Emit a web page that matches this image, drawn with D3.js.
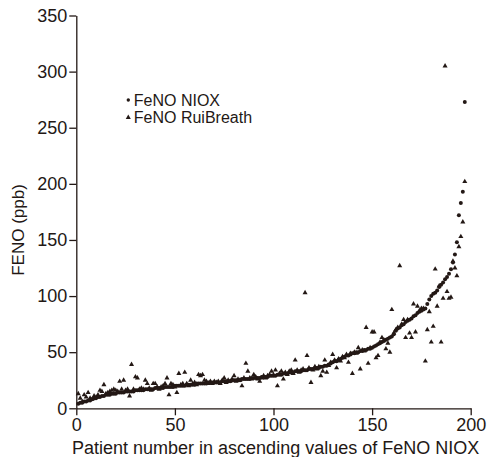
<!DOCTYPE html>
<html>
<head>
<meta charset="utf-8">
<script src="https://cdn.jsdelivr.net/npm/d3@7"></script>
<style>
  body { margin: 0; background: #fff; }
  svg { display: block; }
  .axis text { font-family: "Liberation Sans", Arial, Helvetica, sans-serif; font-size: 18px; fill: #231815; }
  .axis path, .axis line { stroke: #231815; stroke-width: 1.3; }
  .label { font-family: "Liberation Sans", Arial, Helvetica, sans-serif; fill: #231815; }
</style>
</head>
<body>
<div id="chart"></div>
<script>
var svgWidth = 493;
var svgHeight = 457;

// patient number 1..197, sorted by NIOX value
var niox = [
  4,5,5,6,6,7,7,8,9,9,
  10,10,11,11,12,12,12,13,13,13,
  14,14,14,14,15,15,15,15,15,16,
  16,16,16,16,17,17,17,17,17,18,
  18,18,18,18,19,19,19,19,19,20,
  20,20,20,20,20,21,21,21,21,21,
  22,22,22,22,22,22,23,23,23,23,
  23,23,23,24,24,24,24,24,25,25,
  25,25,25,26,26,26,26,26,27,27,
  27,27,27,28,28,28,28,29,29,29,
  29,30,30,30,31,31,31,32,32,32,
  33,33,33,33,34,34,34,35,35,35,
  36,36,36,37,37,38,38,39,40,41,
  42,42,43,44,45,46,47,47,48,49,
  49,50,50,51,51,52,52,53,53,54,
  55,56,57,58,59,60,61,62,63,64,
  66,69,71,72,74,75,77,78,79,80,
  82,83,85,86,87,88,89,93,97,100,
  102,103,105,108,110,112,115,117,120,124,
  130,137,148,172,183,193,273
];

var ruibreath = [
  13,9,6,12,10,14,9,8,11,10,
  12,16,15,21,13,14,15,16,17,16,
  15,24,17,25,16,17,11,39,17,28,
  27,17,18,17,25,22,18,16,22,22,
  19,17,19,20,22,27,12,22,21,19,
  14,31,21,22,32,22,20,25,22,23,
  21,30,29,30,25,24,22,24,22,24,
  23,24,22,25,27,23,25,24,26,29,
  24,26,25,20,27,40,33,27,26,30,
  28,26,24,27,29,27,29,30,33,30,
  34,20,31,33,26,32,30,33,34,31,
  43,34,32,34,35,103,47,36,23,34,
  37,35,37,29,33,43,32,38,41,48,
  43,36,44,42,46,45,48,41,49,31,
  50,49,54,35,52,51,72,40,54,68,
  68,45,47,59,63,61,53,58,50,88,
  67,70,72,127,75,79,63,79,67,63,
  93,68,91,87,89,89,42,70,86,59,
  73,124,91,109,59,98,305,104,98,99,
  131,125,118,144,153,166,202
];

var xTicks = [0, 50, 100, 150, 200];
var yTicks = [0, 50, 100, 150, 200, 250, 300, 350];
var seriesNames = ["FeNO NIOX", "FeNO RuiBreath"];

var ink = "#231815";

var svg = d3.select("#chart")
  .append("svg")
  .attr("width", svgWidth)
  .attr("height", svgHeight);

var xScale = d3.scaleLinear().domain([0, 200]).range([76.3, 470.7]);
var yScale = d3.scaleLinear().domain([0, 350]).range([408.3, 15.5]);

// axes
svg.append("g")
  .attr("class", "axis")
  .attr("transform", `translate(0, ${yScale(0)})`)
  .call(d3.axisBottom(xScale).tickValues(xTicks).tickSize(7).tickSizeOuter(0).tickPadding(3));

svg.append("g")
  .attr("class", "axis")
  .attr("transform", `translate(${xScale(0)}, 0)`)
  .call(d3.axisLeft(yScale).tickValues(yTicks).tickSize(7).tickSizeOuter(0).tickPadding(2));

// RuiBreath triangles
var tri = d3.symbol().type(d3.symbolTriangle).size(11);
svg.append("g")
  .selectAll("path")
  .data(ruibreath)
  .enter()
  .append("path")
  .attr("d", tri)
  .attr("transform", (d, i) => `translate(${xScale(i + 1)}, ${yScale(d)})`)
  .attr("fill", ink);

// NIOX dots
svg.append("g")
  .selectAll("circle")
  .data(niox)
  .enter()
  .append("circle")
  .attr("cx", (d, i) => xScale(i + 1))
  .attr("cy", d => yScale(d))
  .attr("r", 2)
  .attr("fill", ink);

// legend
var legend = svg.append("g").attr("transform", "translate(128.3, 100)");
legend.append("circle").attr("cx", 0).attr("cy", 0).attr("r", 1.7).attr("fill", ink);
legend.append("path").attr("d", tri).attr("transform", "translate(0, 17.5)").attr("fill", ink);
legend.selectAll("text")
  .data(seriesNames)
  .enter()
  .append("text")
  .attr("class", "label")
  .attr("x", 5.5)
  .attr("y", (d, i) => 5.5 + i * 17.5)
  .style("font-size", "16px")
  .text(d => d);

// axis titles
svg.append("text")
  .attr("class", "label")
  .attr("x", 72)
  .attr("y", 454)
  .style("font-size", "18px")
  .text("Patient number in ascending values of FeNO NIOX");

svg.append("text")
  .attr("class", "label")
  .attr("transform", "translate(24, 230) rotate(-90)")
  .attr("text-anchor", "middle")
  .style("font-size", "17px")
  .text("FENO (ppb)");
</script>
</body>
</html>
